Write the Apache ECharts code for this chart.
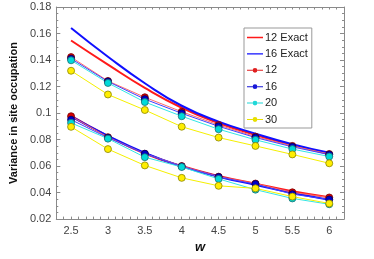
<!DOCTYPE html>
<html><head><meta charset="utf-8">
<script src="https://cdn.jsdelivr.net/npm/echarts@6/dist/echarts.min.js"></script>
<style>html,body{margin:0;padding:0;background:#fff}#c{width:374px;height:259px}</style>
</head><body><div id="c"></div>
<script>
const wValues = [2.5, 3, 3.5, 4, 4.5, 5, 5.5, 6];
const xTickLabels = ['2.5','3','3.5','4','4.5','5','5.5','6'];
// Exact curves (two branches each)
const exact12Upper = [0.1547, 0.1365, 0.1190, 0.1040, 0.0925, 0.0835, 0.0760, 0.0690];
const exact12Lower = [0.0978, 0.0825, 0.0695, 0.0600, 0.0525, 0.0467, 0.0410, 0.0365];
const exact16Upper = [0.1642, 0.1425, 0.1225, 0.1055, 0.0935, 0.0845, 0.0765, 0.0700];
const exact16Lower = [0.0975, 0.0828, 0.0700, 0.0598, 0.0520, 0.0458, 0.0398, 0.0345];
// Simulated points
const n12Upper = [0.1422, 0.1242, 0.1119, 0.1010, 0.0910, 0.0822, 0.0752, 0.0691];
const n12Lower = [0.0976, 0.0818, 0.0693, 0.0600, 0.0520, 0.0468, 0.0402, 0.0363];
const n16Upper = [0.1410, 0.1238, 0.1105, 0.0998, 0.0900, 0.0815, 0.0745, 0.0686];
const n16Lower = [0.0950, 0.0813, 0.0693, 0.0597, 0.0517, 0.0464, 0.0388, 0.0348];
const n20Upper = [0.1398, 0.1227, 0.1083, 0.0976, 0.0878, 0.0798, 0.0728, 0.0672];
const n20Lower = [0.0926, 0.0807, 0.0667, 0.0593, 0.0503, 0.0422, 0.0356, 0.0312];
const n30Upper = [0.1319, 0.1140, 0.1023, 0.0897, 0.0815, 0.0752, 0.0688, 0.0621];
const n30Lower = [0.0896, 0.0728, 0.0605, 0.0511, 0.0451, 0.0432, 0.0370, 0.0318];

const pair = arr => wValues.map((w, i) => [w, arr[i]]);

function exactSeries(name, color, arr) {
  return {name, type:'line', data:pair(arr), smooth:true, showSymbol:false, symbol:'none',
    lineStyle:{color, width:2}, itemStyle:{color}, z:2};
}
function pointSeries(name, lineColor, fill, border, arr) {
  return {name, type:'line', data:pair(arr), symbol:'circle', symbolSize:7, showSymbol:true,
    lineStyle:{color:lineColor, width:1}, itemStyle:{color:fill, borderColor:border, borderWidth:0.8}, z:3};
}

const axisLineStyle = {color:'#8a8a8a', width:1};
const fmtX = v => {
  const k = Math.round(v*2);
  if (Math.abs(v*2 - k) < 1e-6) {
    const idx = wValues.findIndex(w => Math.abs(w - v) < 1e-6);
    return idx >= 0 ? xTickLabels[idx] : '';
  }
  return '';
};
const lineIcon = 'path://M0,0h0.01v0.01h-0.01z M15.99,5.99h0.01v0.01h-0.01z M0,2.3h16v1.4h-16z';
const dotIcon = 'path://M0,0h0.01v0.01h-0.01z M15.99,5.99h0.01v0.01h-0.01z M0,2.5h5.6v1h-5.6z M10.4,2.5h5.6v1h-5.6z M8,0.6a2.4,2.4 0 1 1 -0.01,0z';
const legItem = (name, icon, color) => ({name, icon, itemStyle:{color, borderWidth:0}});

const chart = echarts.init(document.getElementById('c'), null, {renderer:'canvas'});
chart.setOption({
  animation:false,
  backgroundColor:'#fff',
  grid:{left:38, top:7, right:30, bottom:36},
  legend:{
    orient:'vertical', left:244, top:28, width:65,
    data:[
      legItem('12 Exact', lineIcon, '#ff1a1a'),
      legItem('16 Exact', lineIcon, '#1010ff'),
      legItem('12', dotIcon, '#e02020'),
      legItem('16', dotIcon, '#1818d8'),
      legItem('20', dotIcon, '#20d8d8'),
      legItem('30', dotIcon, '#e8e000')],
    itemWidth:16, itemHeight:6, itemGap:5.4,
    padding:[4,4,3,3], borderColor:'#999', borderWidth:1, backgroundColor:'#fff',
    textStyle:{fontSize:11, color:'#222', padding:[0,0,0,-3]}
  },
  xAxis:[{
    type:'value', min:2.3, max:6.2, interval:0.1,
    name:'w', nameLocation:'middle', nameGap:14,
    nameTextStyle:{fontSize:13, fontWeight:'bold', fontStyle:'italic', color:'#111'},
    axisLine:{show:true, lineStyle:axisLineStyle},
    axisTick:{show:true, inside:true, length:2.5, lineStyle:axisLineStyle},
    axisLabel:{show:true, fontSize:11, color:'#444', margin:6, formatter:fmtX, showMinLabel:false, showMaxLabel:false},
    splitLine:{show:false}
  },{
    type:'value', min:2.3, max:6.2, interval:0.1, position:'top',
    axisLine:{show:true, lineStyle:axisLineStyle},
    axisTick:{show:true, inside:true, length:2.5, lineStyle:axisLineStyle},
    axisLabel:{show:false}, splitLine:{show:false}
  }],
  yAxis:[{
    type:'value', min:0.02, max:0.18, interval:0.02,
    name:'Variance in site occupation', nameLocation:'middle', nameGap:29,
    nameTextStyle:{fontSize:11, fontWeight:'bold', color:'#111'},
    axisLine:{show:true, lineStyle:axisLineStyle},
    axisTick:{show:true, inside:true, length:4, lineStyle:axisLineStyle},
    minorTick:{show:true, splitNumber:4, length:2, lineStyle:axisLineStyle},
    axisLabel:{fontSize:11, color:'#444', margin:5},
    splitLine:{show:false}
  },{
    type:'value', min:0.02, max:0.18, interval:0.02, position:'right',
    axisLine:{show:true, lineStyle:axisLineStyle},
    axisTick:{show:true, inside:true, length:4, lineStyle:axisLineStyle},
    minorTick:{show:true, splitNumber:4, length:2, lineStyle:axisLineStyle},
    axisLabel:{show:false}, splitLine:{show:false}
  }],
  series:[
    exactSeries('12 Exact', '#ff1a1a', exact12Upper),
    exactSeries('12 Exact', '#ff1a1a', exact12Lower),
    exactSeries('16 Exact', '#1010ff', exact16Upper),
    exactSeries('16 Exact', '#1010ff', exact16Lower),
    pointSeries('12', '#ff6b6b', '#d80000', '#7a0000', n12Upper),
    pointSeries('12', '#ff6b6b', '#d80000', '#7a0000', n12Lower),
    pointSeries('16', '#4040ff', '#0000c8', '#000060', n16Upper),
    pointSeries('16', '#4040ff', '#0000c8', '#000060', n16Lower),
    pointSeries('20', '#33e6e6', '#00dada', '#207070', n20Upper),
    pointSeries('20', '#33e6e6', '#00dada', '#207070', n20Lower),
    pointSeries('30', '#f5f000', '#ffee00', '#8a8400', n30Upper),
    pointSeries('30', '#f5f000', '#ffee00', '#8a8400', n30Lower)
  ]
});
</script></body></html>
